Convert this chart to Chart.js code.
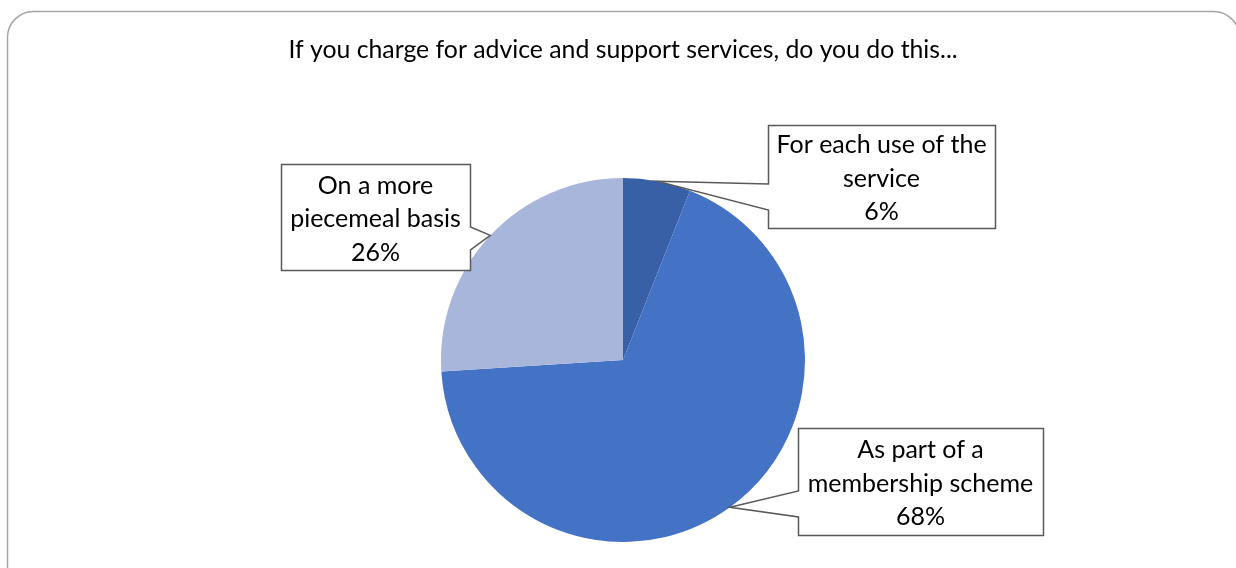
<!DOCTYPE html>
<html>
<head>
<meta charset="utf-8">
<script src="https://cdn.jsdelivr.net/npm/chart.js@4/dist/chart.umd.min.js"></script>
<style>
  html, body { margin: 0; padding: 0; background: #ffffff; }
  #wrap { width: 1236px; height: 568px; }
</style>
</head>
<body>
<div id="wrap"><canvas id="c" width="1236" height="568"></canvas></div>
<script>
// Survey answers: how advice and support services are charged for
const titleText = 'If you charge for advice and support services, do you do this...';
const categories = [
  ['For each use of the', 'service'],
  ['As part of a', 'membership scheme'],
  ['On a more', 'piecemeal basis']
];
const shares = [6, 68, 26];
const sliceColors = ['#3760A6', '#4472C4', '#A9B6DC'];

// Callout boxes: position, size, which edge the pointer leaves from and the pointer's span on that edge
const callouts = [
  { x: 768, y: 125, w: 227, h: 103, side: 'left',  p1: 184, p2: 210 },
  { x: 798, y: 428, w: 245, h: 107, side: 'left',  p1: 491, p2: 517 },
  { x: 281, y: 164, w: 189, h: 106, side: 'right', p1: 227, p2: 250 }
];

const FONT = 'Lato, "Open Sans", "Liberation Sans", sans-serif';

const framePlugin = {
  id: 'frame',
  beforeDraw(chart) {
    const ctx = chart.ctx;
    ctx.save();
    ctx.fillStyle = '#ffffff';
    ctx.fillRect(0, 0, chart.width, chart.height);
    // rounded outer border
    const x = 7.5, y = 11.5, w = 1232, h = 580, r = 26;
    ctx.beginPath();
    ctx.moveTo(x + r, y);
    ctx.lineTo(x + w - r, y);
    ctx.arcTo(x + w, y, x + w, y + r, r);
    ctx.lineTo(x + w, y + h - r);
    ctx.arcTo(x + w, y + h, x + w - r, y + h, r);
    ctx.lineTo(x + r, y + h);
    ctx.arcTo(x, y + h, x, y + h - r, r);
    ctx.lineTo(x, y + r);
    ctx.arcTo(x, y, x + r, y, r);
    ctx.closePath();
    ctx.strokeStyle = '#A6A6A6';
    ctx.lineWidth = 1.5;
    ctx.stroke();
    // title
    ctx.fillStyle = '#000000';
    ctx.font = '24.8px ' + FONT;
    ctx.textAlign = 'center';
    ctx.textBaseline = 'middle';
    ctx.fillText(titleText, 623, 50);
    ctx.restore();
  }
};

const calloutPlugin = {
  id: 'callouts',
  afterDatasetsDraw(chart) {
    const ctx = chart.ctx;
    const meta = chart.getDatasetMeta(0);
    const ds = chart.data.datasets[0];
    ctx.save();
    meta.data.forEach((arc, i) => {
      const b = callouts[i];
      const p = arc.getProps(['x', 'y', 'startAngle', 'endAngle', 'outerRadius'], true);
      const mid = (p.startAngle + p.endAngle) / 2;
      const tx = p.x + Math.cos(mid) * p.outerRadius;
      const ty = p.y + Math.sin(mid) * p.outerRadius;
      const L = b.x + 0.5, R = b.x + b.w + 0.5, T = b.y + 0.5, B = b.y + b.h + 0.5;
      ctx.beginPath();
      if (b.side === 'left') {
        ctx.moveTo(tx, ty);
        ctx.lineTo(L, b.p1);
        ctx.lineTo(L, T);
        ctx.lineTo(R, T);
        ctx.lineTo(R, B);
        ctx.lineTo(L, B);
        ctx.lineTo(L, b.p2);
      } else {
        ctx.moveTo(tx, ty);
        ctx.lineTo(R, b.p2);
        ctx.lineTo(R, B);
        ctx.lineTo(L, B);
        ctx.lineTo(L, T);
        ctx.lineTo(R, T);
        ctx.lineTo(R, b.p1);
      }
      ctx.closePath();
      ctx.fillStyle = '#ffffff';
      ctx.fill();
      ctx.strokeStyle = '#595959';
      ctx.lineWidth = 1.5;
      ctx.lineJoin = 'miter';
      ctx.stroke();

      const lines = [].concat(chart.data.labels[i], [ds.data[i] + '%']);
      ctx.fillStyle = '#000000';
      ctx.font = '25px ' + FONT;
      ctx.textAlign = 'center';
      ctx.textBaseline = 'middle';
      const lh = 33.5;
      const cx = b.x + b.w / 2;
      const cy = b.y + b.h / 2 + 2;
      lines.forEach((t, k) => {
        ctx.fillText(t, cx, cy + (k - (lines.length - 1) / 2) * lh);
      });
    });
    ctx.restore();
  }
};

new Chart(document.getElementById('c'), {
  type: 'pie',
  data: {
    labels: categories,
    datasets: [{
      data: shares,
      backgroundColor: sliceColors,
      borderWidth: 0
    }]
  },
  options: {
    responsive: false,
    animation: false,
    layout: { padding: { top: 178, bottom: 26, left: 210, right: 200 } },
    plugins: {
      legend: { display: false },
      title: { display: false },
      tooltip: { enabled: false }
    }
  },
  plugins: [framePlugin, calloutPlugin]
});
</script>
</body>
</html>
